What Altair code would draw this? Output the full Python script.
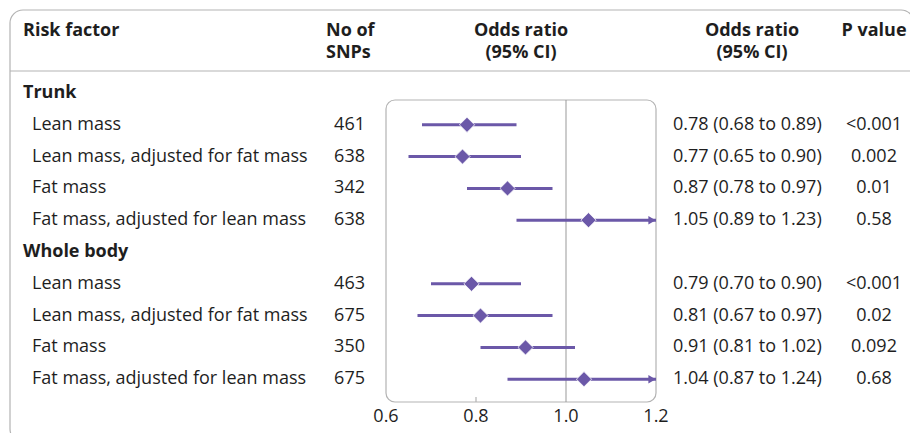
import altair as alt
import pandas as pd

# ---- data ----
groups = ["Trunk", "Whole body"]
factors = ["Lean mass", "Lean mass, adjusted for fat mass", "Fat mass",
           "Fat mass, adjusted for lean mass"]
snps = [461, 638, 342, 638, 463, 675, 350, 675]
or_est = [0.78, 0.77, 0.87, 1.05, 0.79, 0.81, 0.91, 1.04]
or_lo = [0.68, 0.65, 0.78, 0.89, 0.70, 0.67, 0.81, 0.87]
or_hi = [0.89, 0.90, 0.97, 1.23, 0.90, 0.97, 1.02, 1.24]
pvals = ["<0.001", "0.002", "0.01", "0.58", "<0.001", "0.02", "0.092", "0.68"]
ticks = [0.6, 0.8, 1.0, 1.2]
x_min, x_max = 0.6, 1.2

# ---- build tables ----
rows = []
idx = 0
k = 0
heads = []
for g in groups:
    heads.append({"row": idx, "label": g})
    idx += 1
    for f in factors:
        rows.append({
            "row": idx, "label": f, "snps": str(snps[k]), "est": or_est[k],
            "lo": or_lo[k], "hi": min(or_hi[k], x_max), "hi_raw": or_hi[k],
            "ortext": f"{or_est[k]:.2f} ({or_lo[k]:.2f} to {or_hi[k]:.2f})",
            "p": pvals[k],
        })
        idx += 1
        k += 1
df = pd.DataFrame(rows)
dh = pd.DataFrame(heads)
darrow = df[df["hi_raw"] > x_max].copy()
darrow["tip"] = x_max
dt = pd.DataFrame({"t": ticks, "lab": [f"{t:.1f}" for t in ticks]})

FONT = "Open Sans"
TXT = "#1e1e1e"
PURPLE = "#6b58a8"
GRAY = "#b3b3b3"
FS = 18

W, H = 902, 425
xs = alt.Scale(domain=[x_min, x_max], range=[378, 648])
ys = alt.Scale(domain=[0, 9], range=[85, 371.2])
X = lambda f: alt.X(f, type="quantitative", scale=xs, axis=None)
Y = alt.Y("row:Q", scale=ys, axis=None)

one = pd.DataFrame({"a": [0]})

outer = alt.Chart(one).mark_rect(
    fill=None, stroke=GRAY, strokeWidth=1.2, cornerRadius=13
).encode(x=alt.value(2), x2=alt.value(906), y=alt.value(2), y2=alt.value(434))

sep = alt.Chart(one).mark_rule(color=GRAY, strokeWidth=1.2).encode(
    x=alt.value(2), x2=alt.value(906), y=alt.value(63))

box = alt.Chart(pd.DataFrame({"a": [x_min], "b": [x_max]})).mark_rect(
    fill=None, stroke=GRAY, strokeWidth=1.2, cornerRadius=9
).encode(x=X("a"), x2="b", y=alt.value(92), y2=alt.value(394))

ref = alt.Chart(pd.DataFrame({"v": [1.0]})).mark_rule(
    color="#999999", strokeWidth=1).encode(
    x=X("v"), y=alt.value(92), y2=alt.value(394))

tickm = alt.Chart(pd.DataFrame({"v": [0.8]})).mark_rule(
    color=GRAY, strokeWidth=1.2).encode(
    x=X("v"), y=alt.value(389), y2=alt.value(394))

ticklab = alt.Chart(dt).mark_text(
    font=FONT, fontSize=FS, color=TXT, baseline="middle", align="center"
).encode(x=X("t"), y=alt.value(409), text="lab:N")

ci = alt.Chart(df).mark_rule(color=PURPLE, strokeWidth=3).encode(
    x=X("lo"), x2="hi", y=Y)

arrow = alt.Chart(darrow).mark_point(
    shape="triangle-right", filled=True, color=PURPLE, size=70, opacity=1,
    xOffset=-4).encode(x=X("tip"), y=Y)

dia = alt.Chart(df).mark_point(
    shape="diamond", filled=True, fill=PURPLE, stroke="white",
    strokeWidth=0.8, size=230, opacity=1).encode(x=X("est"), y=Y)

def col(data, field, xpos, align, bold=False):
    return alt.Chart(data).mark_text(
        font=FONT, fontSize=FS, color=TXT, align=align, baseline="middle",
        fontWeight="bold" if bold else "normal"
    ).encode(x=alt.value(xpos), y=Y, text=f"{field}:N")

lab = col(df, "label", 24, "left")
hlab = col(dh, "label", 15, "left", bold=True)
snp = col(df, "snps", 357, "right")
ort = col(df, "ortext", 665, "left")
pv = col(df, "p", 866, "center")

hdr_rows = pd.DataFrame([
    {"t": "Risk factor", "x": 15, "y": 23, "al": "left"},
    {"t": "No of", "x": 318, "y": 23, "al": "left"},
    {"t": "SNPs", "x": 318, "y": 45, "al": "left"},
    {"t": "Odds ratio", "x": 513, "y": 23, "al": "center"},
    {"t": "(95% CI)", "x": 513, "y": 45, "al": "center"},
    {"t": "Odds ratio", "x": 744, "y": 23, "al": "center"},
    {"t": "(95% CI)", "x": 744, "y": 45, "al": "center"},
    {"t": "P value", "x": 866, "y": 23, "al": "center"},
])
hdr_layers = []
for al in ["left", "center"]:
    sub = hdr_rows[hdr_rows["al"] == al]
    hdr_layers.append(
        alt.Chart(sub).mark_text(
            font=FONT, fontSize=FS, color=TXT, fontWeight="bold",
            align=al, baseline="middle"
        ).encode(
            x=alt.X("x:Q", scale=None, axis=None),
            y=alt.Y("y:Q", scale=None, axis=None),
            text="t:N")
    )

chart = alt.layer(
    outer, sep, box, ref, tickm, ticklab, ci, arrow, dia,
    lab, hlab, snp, ort, pv, *hdr_layers
).properties(
    width=W, height=H, padding=0, autosize=alt.AutoSizeParams(type="none")
).configure_view(stroke=None)

chart.save("out.html", embed_options={"renderer": "svg", "actions": False})
